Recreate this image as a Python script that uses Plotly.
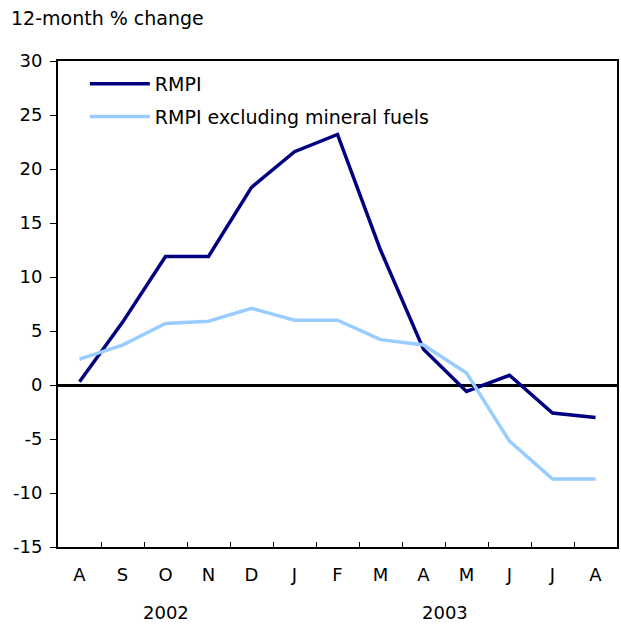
import plotly.graph_objects as go

months = ["A", "S", "O", "N", "D", "J", "F", "M", "A", "M", "J", "J", "A"]
rmpi = [0.3, 5.8, 11.9, 11.9, 18.3, 21.6, 23.2, 12.5, 3.3, -0.6, 0.9, -2.6, -3.0]
rmpi_ex_fuels = [2.4, 3.7, 5.7, 5.9, 7.1, 6.0, 6.0, 4.2, 3.7, 1.1, -5.2, -8.7, -8.7]
years = ["2002", "2003"]
year_pos = [2, 8.5]
y_ticks = [-15, -10, -5, 0, 5, 10, 15, 20, 25, 30]
y_ticktext = [str(v) for v in y_ticks]

x = list(range(len(months)))
font = "DejaVu Sans, Liberation Sans, Arial, sans-serif"

fig = go.Figure()
fig.add_trace(go.Scatter(x=x, y=rmpi, mode="lines", name="RMPI", legendgroup="a",
                         line=dict(color="#000080", width=3.5)))
fig.add_trace(go.Scatter(x=x, y=rmpi_ex_fuels, mode="lines", legendgroup="b",
                         name="RMPI excluding mineral fuels",
                         line=dict(color="#99CCFF", width=3.5)))

for yr, pos in zip(years, year_pos):
    fig.add_annotation(x=pos, y=0, xref="x", yref="paper", yshift=-65,
                       text=yr, showarrow=False, yanchor="middle",
                       font=dict(size=18, color="black", family=font))

fig.add_annotation(x=0, y=1, xref="paper", yref="paper", xshift=-49, yshift=43,
                   text="12-month % change", showarrow=False,
                   xanchor="left", yanchor="middle",
                   font=dict(size=19, color="black", family=font))

fig.update_layout(
    width=621, height=625,
    margin=dict(l=58, r=4, t=61, b=78, autoexpand=False),
    paper_bgcolor="white", plot_bgcolor="white",
    font=dict(family=font, size=18, color="black"),
    showlegend=True,
    legend=dict(x=0.048, y=0.992, xanchor="left", yanchor="top",
                bgcolor="rgba(0,0,0,0)", font=dict(size=19),
                itemwidth=60, tracegroupgap=5),
    xaxis=dict(range=[-0.5, 12.5], tickmode="array", tickvals=x, ticktext=months,
               ticks="", showgrid=False, zeroline=False, automargin=False,
               showline=True, linecolor="black", linewidth=2, mirror=True,
               minor=dict(tickmode="array", tickvals=[i + 0.5 for i in range(12)],
                          ticks="inside", ticklen=5, tickcolor="black", tickwidth=1),
               tickfont=dict(size=18), ticklabelstandoff=10),
    yaxis=dict(range=[-15, 30], tickmode="array", tickvals=y_ticks, ticktext=y_ticktext,
               ticks="outside", ticklen=6, tickcolor="black", tickwidth=1,
               showgrid=False, zeroline=True, zerolinecolor="black", zerolinewidth=3,
               showline=True, linecolor="black", linewidth=2, mirror=True,
               automargin=False, tickfont=dict(size=18), ticklabelstandoff=4),
)

fig.write_html("out.html", config={"displayModeBar": False},
               post_script="document.body.style.margin='0px';document.body.style.padding='0px';document.body.style.overflow='hidden';")
